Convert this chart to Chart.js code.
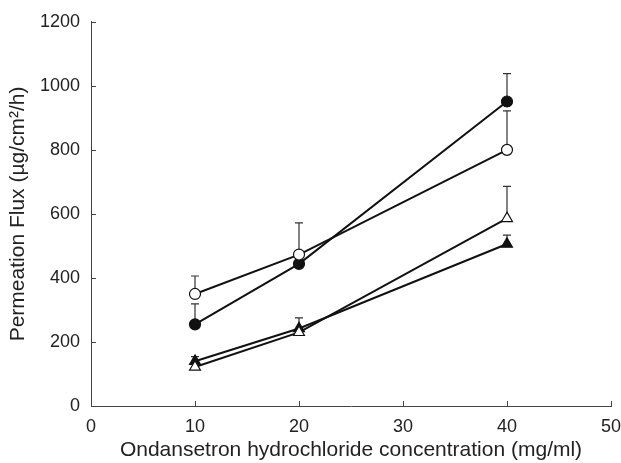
<!DOCTYPE html>
<html>
<head>
<meta charset="utf-8">
<script src="https://cdn.jsdelivr.net/npm/chart.js@4/dist/chart.umd.min.js"></script>
<style>
html,body{margin:0;padding:0;background:#fff;}
#wrap{width:621px;height:463px;position:relative;}
</style>
</head>
<body>
<div id="wrap"><canvas id="c" width="621" height="463"></canvas></div>
<script>
const concentrations = [10, 20, 40];
const filledCircle = [255, 444, 951];
const filledCircleErr = [64, 0, 87];
const openCircle = [350, 473, 800];
const openCircleErr = [56, 99, 122];
const openTriangle = [122, 230, 586];
const openTriangleErr = [0, 0, 100];
const filledTriangle = [140, 242, 506];
const filledTriangleErr = [14, 33, 28];
const xTicks = [0, 10, 20, 30, 40, 50];
const yTicks = [0, 200, 400, 600, 800, 1000, 1200];

function pts(ys){ return concentrations.map((x,i)=>({x:x,y:ys[i]})); }

const FONT = "'Liberation Sans', Arial, sans-serif";

const errorBars = {
  id:'errorBars',
  beforeDatasetsDraw(chart){
    const ctx = chart.ctx, xs = chart.scales.x, ys = chart.scales.y;
    ctx.save();
    ctx.strokeStyle = '#333';
    ctx.lineWidth = 1.2;
    chart.data.datasets.forEach(ds=>{
      ds.err.forEach((e,i)=>{
        if(!e) return;
        const px = xs.getPixelForValue(ds.data[i].x);
        const y0 = ys.getPixelForValue(ds.data[i].y);
        const y1 = ys.getPixelForValue(ds.data[i].y + e);
        ctx.beginPath();
        ctx.moveTo(px,y0); ctx.lineTo(px,y1);
        ctx.moveTo(px-4,y1); ctx.lineTo(px+4,y1);
        ctx.stroke();
      });
    });
    ctx.restore();
  }
};

const inwardTicks = {
  id:'inwardTicks',
  afterDraw(chart){
    const ctx = chart.ctx, xs = chart.scales.x, ys = chart.scales.y;
    const a = chart.chartArea;
    ctx.save();
    ctx.strokeStyle = '#444';
    ctx.lineWidth = 1;
    xTicks.forEach(v=>{
      const px = Math.round(xs.getPixelForValue(v))+0.5;
      ctx.beginPath(); ctx.moveTo(px,a.bottom); ctx.lineTo(px,a.bottom-5); ctx.stroke();
    });
    yTicks.forEach(v=>{
      const py = Math.round(ys.getPixelForValue(v))+0.5;
      ctx.beginPath(); ctx.moveTo(a.left,py); ctx.lineTo(a.left+5,py); ctx.stroke();
    });
    ctx.restore();
  }
};

const mk = (label, data, err, style, fill) => ({
  label, data: pts(data), err,
  borderColor:'#111', borderWidth:2,
  pointStyle: style, pointRadius: style==='triangle'?6.3:5.5,
  pointBackgroundColor: fill, pointBorderColor:'#111', pointBorderWidth:1.2,
  pointHoverRadius: 5.5, showLine:true, fill:false, tension:0
});

new Chart(document.getElementById('c'), {
  type:'scatter',
  data:{ datasets:[
    mk('open circle', openCircle, openCircleErr, 'circle', '#fff'),
    mk('filled circle', filledCircle, filledCircleErr, 'circle', '#111'),
    mk('open triangle', openTriangle, openTriangleErr, 'triangle', '#fff'),
    mk('filled triangle', filledTriangle, filledTriangleErr, 'triangle', '#111')
  ]},
  options:{
    responsive:false, animation:false,
    layout:{padding:{top:21,right:10,left:0,bottom:0}},
    plugins:{legend:{display:false}, tooltip:{enabled:false}},
    scales:{
      x:{
        type:'linear', min:0, max:50,
        afterBuildTicks(s){ s.ticks = xTicks.map(v=>({value:v})); },
        afterFit(s){ s.height = 57; s.paddingRight = 0; s.paddingLeft = 0; },
        grid:{display:false, drawTicks:false},
        border:{display:true, color:'#444', width:1},
        ticks:{color:'#222', font:{family:FONT,size:18}, padding:10, callback:v=>String(v)},
        title:{display:true, text:'Ondansetron hydrochloride concentration (mg/ml)', color:'#222', font:{family:FONT,size:21}, padding:{top:0,bottom:0}}
      },
      y:{
        type:'linear', min:0, max:1200,
        afterBuildTicks(s){ s.ticks = yTicks.map(v=>({value:v})); },
        afterFit(s){ s.width = 91; },
        grid:{display:false, drawTicks:false},
        border:{display:true, color:'#444', width:1},
        ticks:{color:'#222', font:{family:FONT,size:18}, padding:11, callback:v=>String(v)},
        title:{display:true, text:'Permeation Flux (µg/cm²/h)', color:'#222', font:{family:FONT,size:21}, padding:{top:6,bottom:0}}
      }
    }
  },
  plugins:[errorBars, inwardTicks]
});
</script>
</body>
</html>
